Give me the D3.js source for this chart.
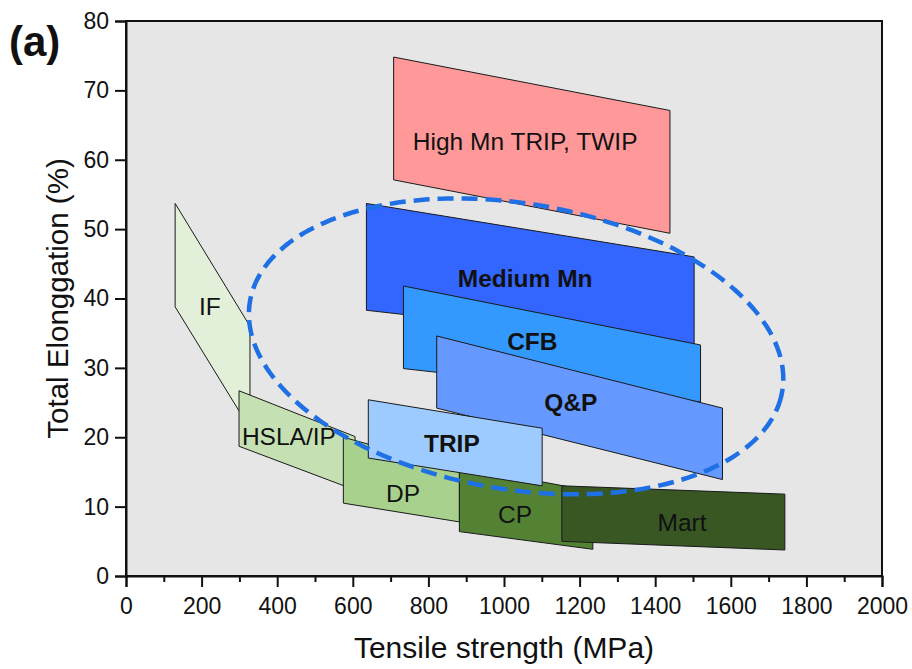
<!DOCTYPE html>
<html>
  <head>
    <meta charset="utf-8">
    <title>Elongation vs tensile strength</title>
    <script src="https://d3js.org/d3.v7.min.js"></script>
    <style>
      body { margin: 0; background: #fff; }
      text { font-family: "Liberation Sans", Arial, sans-serif; }
    </style>
  </head>
  <body>
    <svg width="912" height="669"></svg>
    <script>
      // steel grades, each region as [tensile MPa, elongation %] corners
      var highMn   = [[708, 74.8], [1439, 67.1], [1439, 49.4], [708, 57.1]];
      var mediumMn = [[636, 53.7], [1503, 46.0], [1503, 33.0], [636, 38.3]];
      var cfb      = [[734, 41.8], [1520, 33.3], [1520, 25.1], [734, 29.9]];
      var qp       = [[822, 34.6], [1578, 24.2], [1578, 13.9], [822, 24.2]];
      var ifSteel  = [[130, 53.7], [328, 36.0], [328, 22.0], [299, 23.8], [130, 38.8]];
      var hsla     = [[299, 26.7], [606, 20.1], [606, 12.4], [299, 18.7]];
      var dp       = [[575, 20.0], [882, 15.4], [882, 7.8], [575, 10.5]];
      var cp       = [[882, 15.8], [1235, 12.2], [1235, 3.85], [882, 6.4]];
      var mart     = [[1153, 13.0], [1743, 11.8], [1743, 3.75], [1153, 5.0]];
      var trip     = [[641, 25.4], [1101, 21.3], [1101, 13.0], [641, 17.0]];

      var regions = [
        {name: "High Mn TRIP, TWIP", pts: highMn, fill: "#ff9999", bold: false, at: [1056, 61.4]},
        {name: "Medium Mn", pts: mediumMn, fill: "#3366ff", bold: true, at: [1056, 41.6]},
        {name: "CFB", pts: cfb, fill: "#3399ff", bold: true, at: [1075, 32.6]},
        {name: "Q&P", pts: qp, fill: "#6699ff", bold: true, at: [1177, 23.8]},
        {name: "IF", pts: ifSteel, fill: "#e2efd9", bold: false, at: [222, 37.6]},
        {name: "HSLA/IP", pts: hsla, fill: "#c5e0b3", bold: false, at: [431, 18.9]},
        {name: "DP", pts: dp, fill: "#a9d18e", bold: false, at: [733, 10.7]},
        {name: "CP", pts: cp, fill: "#548235", bold: false, at: [1029, 7.6]},
        {name: "Mart", pts: mart, fill: "#385723", bold: false, at: [1471, 6.5]},
        {name: "TRIP", pts: trip, fill: "#9dcbff", bold: true, at: [862, 17.9]}
      ];

      // dashed ellipse round the 3rd generation AHSS: centre, semi-axes, tilt (deg)
      var ellipseCentre = [1032, 33.1];
      var ellipseAxes = [714, 20.6];
      var ellipseTilt = 9.6;

      var xTicks = [0, 200, 400, 600, 800, 1000, 1200, 1400, 1600, 1800, 2000];
      var yTicks = [0, 10, 20, 30, 40, 50, 60, 70, 80];

      var svg = d3.select("svg");
      var m = {left: 126, right: 30, top: 21, bottom: 93};
      var W = 912 - m.left - m.right, H = 669 - m.top - m.bottom;

      var x = d3.scaleLinear().domain([0, 2000]).range([m.left, m.left + W]);
      var y = d3.scaleLinear().domain([0, 80]).range([m.top + H, m.top]);

      svg.append("rect")
        .attr("x", m.left).attr("y", m.top).attr("width", W).attr("height", H)
        .attr("fill", "#e6e6e6");

      var line = d3.line().x(function (d) { return x(d[0]); }).y(function (d) { return y(d[1]); });

      svg.selectAll("path.region")
        .data(regions)
        .enter()
        .append("path")
        .attr("class", "region")
        .attr("d", function (d) { return line(d.pts) + "Z"; })
        .attr("fill", function (d) { return d.fill; })
        .attr("stroke", "#1a1a1a")
        .attr("stroke-width", 1);

      svg.selectAll("text.label")
        .data(regions)
        .enter()
        .append("text")
        .attr("class", "label")
        .attr("x", function (d) { return x(d.at[0]); })
        .attr("y", function (d) { return y(d.at[1]); })
        .attr("text-anchor", "middle")
        .attr("font-size", 24.5)
        .attr("font-weight", function (d) { return d.bold ? "bold" : "normal"; })
        .attr("fill", "#111")
        .text(function (d) { return d.name; });

      // tilted ellipse, built in pixel space from the scaled centre and radii
      var cx = x(ellipseCentre[0]), cy = y(ellipseCentre[1]);
      var rx = x(ellipseCentre[0] + ellipseAxes[0]) - cx;
      var ry = cy - y(ellipseCentre[1] + ellipseAxes[1]);
      var th = ellipseTilt * Math.PI / 180;
      var ell = d3.range(0, 360, 2).map(function (a) {
        var t = a * Math.PI / 180;
        var ex = rx * Math.cos(t), ey = ry * Math.sin(t);
        return [cx + ex * Math.cos(th) - ey * Math.sin(th), cy + ex * Math.sin(th) + ey * Math.cos(th)];
      });
      svg.append("path")
        .attr("d", d3.line().curve(d3.curveCardinalClosed)(ell))
        .attr("fill", "none")
        .attr("stroke", "#1f6fe5")
        .attr("stroke-width", 4.5)
        .attr("stroke-dasharray", "16,8");

      // frame
      svg.append("rect")
        .attr("x", m.left).attr("y", m.top).attr("width", W).attr("height", H)
        .attr("fill", "none").attr("stroke", "#111").attr("stroke-width", 2);

      var xAxis = svg.append("g")
        .attr("transform", "translate(0," + (m.top + H) + ")")
        .call(d3.axisBottom(x).tickValues(xTicks).tickSize(11).tickPadding(6).tickFormat(d3.format("d")));
      svg.append("g")
        .attr("transform", "translate(0," + (m.top + H) + ")")
        .call(d3.axisBottom(x).tickValues(d3.range(100, 2000, 200)).tickSize(6).tickFormat(""))
        .call(function (g) { g.select(".domain").remove(); });
      var yAxis = svg.append("g")
        .attr("transform", "translate(" + m.left + ",0)")
        .call(d3.axisLeft(y).tickValues(yTicks).tickSize(11).tickPadding(6));

      svg.selectAll(".tick line").attr("stroke", "#111").attr("stroke-width", 2);
      svg.selectAll(".domain").attr("stroke", "#111").attr("stroke-width", 2);
      svg.selectAll(".tick text")
        .attr("font-family", "'Liberation Sans', Arial, sans-serif")
        .attr("font-size", 23)
        .attr("fill", "#111");
      xAxis.selectAll(".tick text").attr("dy", "0.9em");

      svg.append("text")
        .attr("x", m.left + W / 2)
        .attr("y", 658)
        .attr("text-anchor", "middle")
        .attr("font-size", 30)
        .attr("fill", "#111")
        .text("Tensile strength (MPa)");

      svg.append("text")
        .attr("transform", "translate(68," + (m.top + H / 2) + ") rotate(-90)")
        .attr("text-anchor", "middle")
        .attr("font-size", 29.5)
        .attr("fill", "#111")
        .text("Total Elonggation (%)");

      svg.append("text")
        .attr("x", 9)
        .attr("y", 56)
        .attr("font-size", 42)
        .attr("font-weight", "bold")
        .attr("fill", "#111")
        .text("(a)");
    </script>
  </body>
</html>
